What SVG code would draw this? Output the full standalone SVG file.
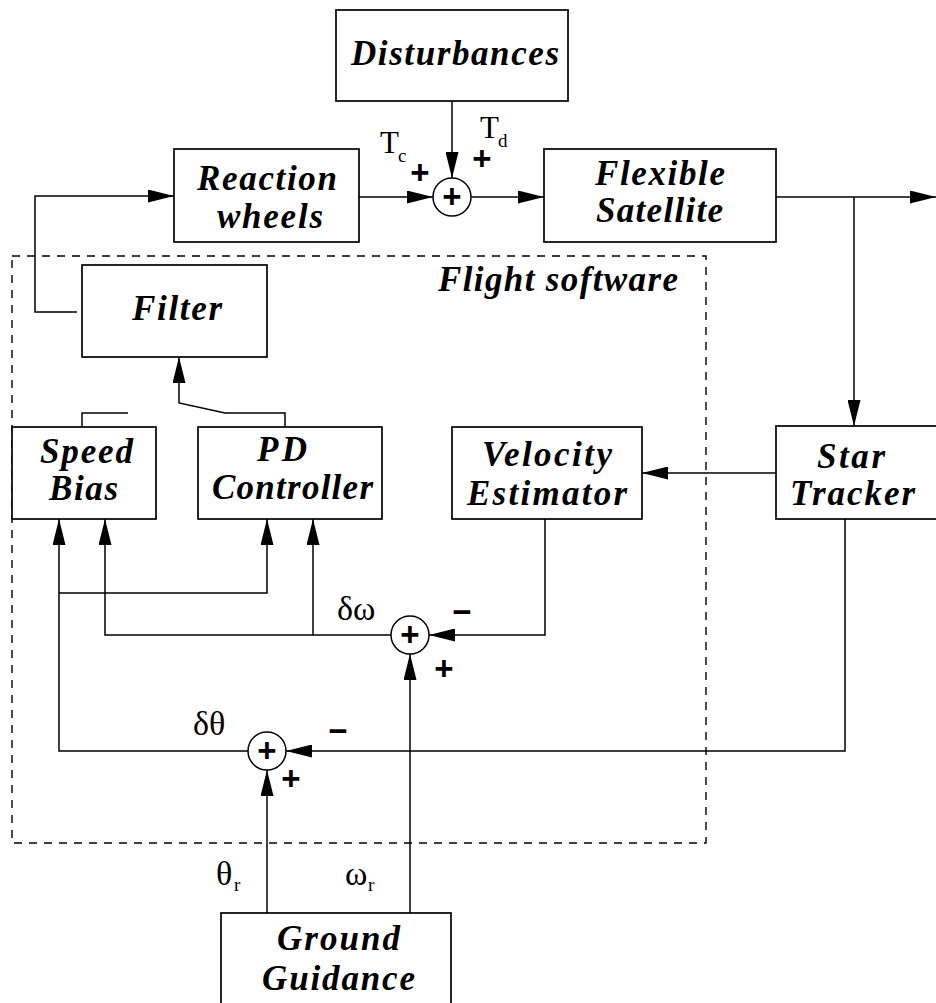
<svg xmlns="http://www.w3.org/2000/svg" width="936" height="1003" viewBox="0 0 936 1003">
<style>
.box{fill:#fff;stroke:#000;stroke-width:1.7}
.ln{fill:none;stroke:#000;stroke-width:1.5}
.lbl{font-family:"Liberation Serif","Times New Roman",serif;font-weight:bold;font-style:italic;font-size:35px;fill:#000}
.sym{font-family:"Liberation Serif","Times New Roman",serif;font-size:31px;fill:#000}
.gk{font-family:"Liberation Serif","Times New Roman",serif;font-size:34px;fill:#000}
.sub{font-family:"Liberation Serif","Times New Roman",serif;font-size:19px;fill:#000}
.sg{font-family:"Liberation Sans",Arial,sans-serif;font-weight:bold;font-size:33px;fill:#000;text-anchor:middle}
.sum{fill:#fff;stroke:#000;stroke-width:1.5}
</style>
<defs>
<marker id="ah" markerUnits="userSpaceOnUse" markerWidth="26" markerHeight="13" refX="26" refY="6.5" orient="auto">
<path d="M0,0 L26,6.5 L0,13 z" fill="#000"/>
</marker>
</defs>
<rect width="936" height="1003" fill="#fff"/>

<g id="flight-software">
<rect x="12" y="256" width="694" height="587" fill="none" stroke="#000" stroke-width="1.4" stroke-dasharray="8,7"/>
<text class="lbl" x="438" y="291" textLength="240" lengthAdjust="spacing">Flight software</text>
</g>

<g id="connectors">
<path class="ln" d="M77,312 H35 V196 H174" marker-end="url(#ah)"/>
<path class="ln" d="M359,197 H433" marker-end="url(#ah)"/>
<path class="ln" d="M452,101 V178" marker-end="url(#ah)"/>
<path class="ln" d="M471,197 H544" marker-end="url(#ah)"/>
<path class="ln" d="M776,197 H936" marker-end="url(#ah)"/>
<path class="ln" d="M854,197 V426" marker-end="url(#ah)"/>
<path class="ln" d="M776,473 H642" marker-end="url(#ah)"/>
<path class="ln" d="M545,519 V635 H429" marker-end="url(#ah)"/>
<path class="ln" d="M391,635 H105 V519" marker-end="url(#ah)"/>
<path class="ln" d="M313,635 V519" marker-end="url(#ah)"/>
<path class="ln" d="M845,519 V751 H286" marker-end="url(#ah)"/>
<path class="ln" d="M248,751 H59 V519" marker-end="url(#ah)"/>
<path class="ln" d="M59,593 H267 V519" marker-end="url(#ah)"/>
<path class="ln" d="M267,913 V770" marker-end="url(#ah)"/>
<path class="ln" d="M410,913 V654" marker-end="url(#ah)"/>
<path class="ln" d="M285,427 V413 H225 L179,403 V357" marker-end="url(#ah)"/>
<path class="ln" d="M82,427 V413 H128"/>
</g>

<g id="disturbances">
<rect class="box" x="336" y="10" width="232" height="91"/>
<text class="lbl" x="351" y="65" textLength="208" lengthAdjust="spacing">Disturbances</text>
</g>

<g id="reaction-wheels">
<rect class="box" x="174" y="149" width="185" height="93"/>
<text class="lbl" x="197" y="190" textLength="140" lengthAdjust="spacing">Reaction</text>
<text class="lbl" x="217" y="228" textLength="106" lengthAdjust="spacing">wheels</text>
</g>

<g id="sum-torque">
<circle class="sum" cx="452" cy="197" r="19"/>
<text class="sg" x="452" y="208">+</text>
</g>

<g id="torque-labels">
<text class="sym" x="380" y="153">T</text><text class="sub" x="398" y="162">c</text>
<text class="sg" x="420" y="184">+</text>
<text class="sym" x="480" y="138">T</text><text class="sub" x="498" y="147">d</text>
<text class="sg" x="482" y="170">+</text>
</g>

<g id="flexible-satellite">
<rect class="box" x="544" y="149" width="232" height="93"/>
<text class="lbl" x="595" y="185" textLength="130" lengthAdjust="spacing">Flexible</text>
<text class="lbl" x="596" y="222" textLength="127" lengthAdjust="spacing">Satellite</text>
</g>

<g id="filter">
<rect class="box" x="82" y="265" width="185" height="92"/>
<text class="lbl" x="132" y="320" textLength="90" lengthAdjust="spacing">Filter</text>
</g>

<g id="speed-bias">
<rect class="box" x="12" y="427" width="144" height="92"/>
<text class="lbl" x="40" y="463" textLength="93" lengthAdjust="spacing">Speed</text>
<text class="lbl" x="49" y="500" textLength="69" lengthAdjust="spacing">Bias</text>
</g>

<g id="pd-controller">
<rect class="box" x="198" y="427" width="184" height="92"/>
<text class="lbl" x="257" y="461" textLength="50" lengthAdjust="spacing">PD</text>
<text class="lbl" x="212" y="499" textLength="161" lengthAdjust="spacing">Controller</text>
</g>

<g id="velocity-estimator">
<rect class="box" x="452" y="427" width="190" height="92"/>
<text class="lbl" x="482" y="466" textLength="130" lengthAdjust="spacing">Velocity</text>
<text class="lbl" x="467" y="505" textLength="160" lengthAdjust="spacing">Estimator</text>
</g>

<g id="star-tracker">
<rect class="box" x="776" y="426" width="170" height="93"/>
<text class="lbl" x="817" y="468" textLength="68" lengthAdjust="spacing">Star</text>
<text class="lbl" x="790" y="505" textLength="125" lengthAdjust="spacing">Tracker</text>
</g>

<g id="sum-rate">
<circle class="sum" cx="410" cy="635" r="19"/>
<text class="sg" x="410" y="646">+</text>
<text class="gk" x="337" y="620">δω</text>
<text class="sg" x="462" y="623">−</text>
<text class="sg" x="444" y="680">+</text>
</g>

<g id="sum-angle">
<circle class="sum" cx="267" cy="751" r="19"/>
<text class="sg" x="267" y="762">+</text>
<text class="gk" x="193" y="735">δθ</text>
<text class="sg" x="338" y="742">−</text>
<text class="sg" x="291" y="790">+</text>
</g>

<g id="reference-labels">
<text class="gk" x="216" y="885">θ</text><text class="sub" x="234" y="891">r</text>
<text class="gk" x="345" y="885">ω</text><text class="sub" x="368" y="891">r</text>
</g>

<g id="ground-guidance">
<rect class="box" x="221" y="913" width="230" height="100"/>
<text class="lbl" x="277" y="950" textLength="123" lengthAdjust="spacing">Ground</text>
<text class="lbl" x="262" y="990" textLength="153" lengthAdjust="spacing">Guidance</text>
</g>
</svg>
